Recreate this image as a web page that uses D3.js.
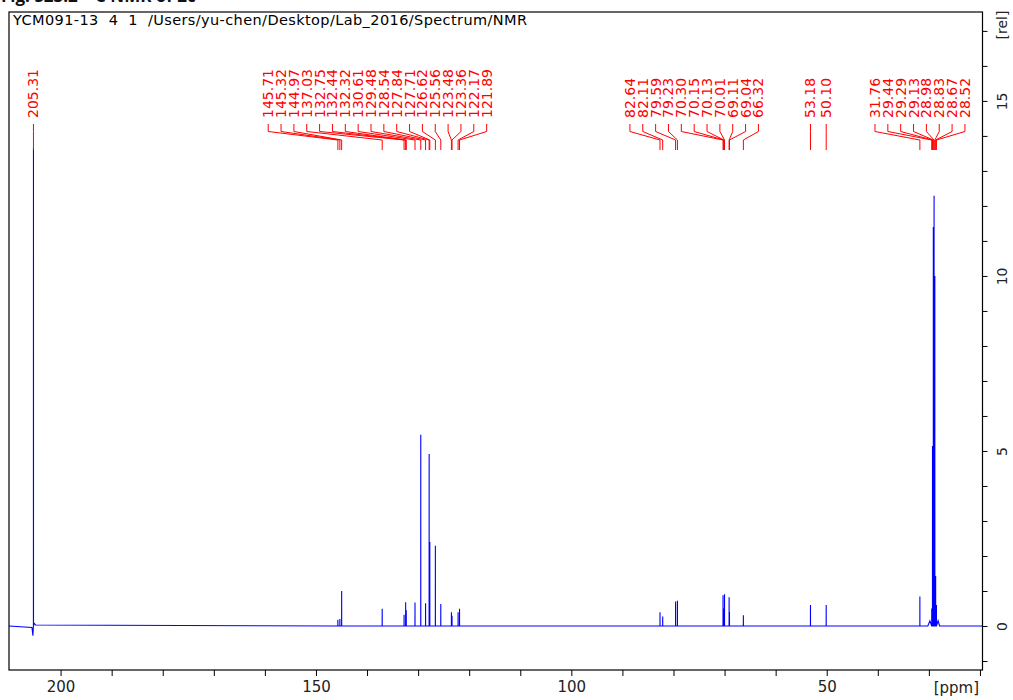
<!DOCTYPE html>
<html>
<head>
<meta charset="utf-8">
<script src="https://cdn.jsdelivr.net/npm/d3@7/dist/d3.min.js"></script>
<style>
  html, body { margin: 0; padding: 0; background: #fff; }
  svg { display: block; }
</style>
</head>
<body>
<svg id="chart" width="1013" height="700"></svg>
<script>
// 13C NMR peak list: chemical shift (ppm) and intensity (rel)
const peakPpm = [
  205.31,
  145.71, 145.32, 144.97, 137.03, 132.75, 132.44, 132.32, 130.61, 129.48,
  128.54, 127.84, 127.71, 126.62, 125.56, 123.48, 123.36, 122.17, 121.89,
  82.64, 82.11, 79.59, 79.23, 70.30, 70.15, 70.13, 70.01, 69.11, 69.04, 66.32,
  53.18, 50.10,
  31.76, 29.44, 29.29, 29.13, 28.98, 28.83, 28.67, 28.52
];
const peakHeight = [
  13.66,
  0.18, 0.20, 1.00, 0.49, 0.32, 0.68, 0.45, 0.67, 5.46,
  0.65, 4.91, 2.40, 2.29, 0.63, 0.39, 0.29, 0.39, 0.49,
  0.39, 0.27, 0.70, 0.72, 0.88, 0.40, 0.50, 0.91, 0.82, 0.40, 0.31,
  0.60, 0.60,
  0.84, 0.50, 5.14, 11.40, 12.29, 10.00, 1.43, 0.60
];
// baseline features (ppm, rel): phase dip beside the ketone line and the broad foot under the CH2 cluster
const baselinePpm = [205.60, 205.42, 205.36, 205.20, 204.90, 30.20, 29.80, 28.20, 27.90];
const baselineVal = [-0.04, -0.28, -0.10, 0.08, 0.03, 0.00, 0.15, 0.15, 0.00];

// axis ticks
const xMajorTicks = [200, 150, 100, 50];
const yMajorTicks = [0, 5, 10, 15];

const titleText = "YCM091-13  4  1  /Users/yu-chen/Desktop/Lab_2016/Spectrum/NMR";
const captionText = "Fig. S23.2  \u00B9\u00B3C NMR of 2c";

// ---- layout ----
const W = 1013, H = 700;
const plot = { left: 9, right: 982.5, top: 12, bottom: 670 };
const svg = d3.select("#chart");

const x = d3.scaleLinear().domain([210.1, 19.5]).range([plot.left, plot.right]);
const y = d3.scaleLinear().domain([-1.257, 17.54]).range([plot.bottom, plot.top]);

const FONT = "'DejaVu Sans', Verdana, sans-serif";

// caption above the frame (runs off the top edge of the page)
svg.append("text")
  .attr("x", 1).attr("y", 2)
  .attr("font-family", "'Open Sans', 'DejaVu Sans', sans-serif")
  .attr("font-weight", "bold")
  .attr("font-size", 17)
  .attr("fill", "#111")
  .text(captionText);

// spectrum trace
const pts = [];
pts.push([x.domain()[0], 0]);
baselinePpm.forEach((p, i) => pts.push([p, baselineVal[i]]));
const hw = 0.008;
peakPpm.forEach((p, i) => {
  pts.push([p + hw, 0]);
  pts.push([p, peakHeight[i]]);
  pts.push([p - hw, 0]);
});
pts.push([x.domain()[1], 0]);
pts.sort((a, b) => b[0] - a[0]);

svg.append("clipPath").attr("id", "plotclip")
  .append("rect")
  .attr("x", plot.left).attr("y", plot.top)
  .attr("width", plot.right - plot.left).attr("height", plot.bottom - plot.top);

svg.append("path")
  .datum(pts)
  .attr("clip-path", "url(#plotclip)")
  .attr("fill", "none")
  .attr("stroke", "#0000ff")
  .attr("stroke-width", 1.1)
  .attr("d", d3.line().x(d => x(d[0])).y(d => y(d[1])));

// peak labels: runs of rotated labels with leader lines
const labelStep = 12.85;
const labelRuns = [
  { from: 0, to: 0, startPpm: 205.31 },
  { from: 1, to: 18, startPpm: 159.35 },
  { from: 19, to: 29, startPpm: 88.53 },
  { from: 30, to: 30, startPpm: 53.18 },
  { from: 31, to: 31, startPpm: 50.10 },
  { from: 32, to: 39, startPpm: 40.55 }
];
const labelBottom = 118, legTop = 124, legKnee = 131.5, legJoin = 140, legEnd = 150;

const labels = [];
labelRuns.forEach(run => {
  const x0 = x(run.startPpm);
  for (let i = run.from; i <= run.to; i++) {
    labels.push({ i, lx: x0 + (i - run.from) * labelStep, px: x(peakPpm[i]) });
  }
});

const gLab = svg.append("g");
const leg = d3.line();
gLab.selectAll("path.leg")
  .data(labels)
  .join("path")
  .attr("class", "leg")
  .attr("fill", "none")
  .attr("stroke", "#ff0000")
  .attr("stroke-width", 1)
  .attr("d", d => leg([[d.lx, legTop], [d.lx, legKnee], [d.px, legJoin], [d.px, legEnd]]));

gLab.selectAll("text")
  .data(labels)
  .join("text")
  .attr("transform", d => `translate(${d.lx + 5},${labelBottom}) rotate(-90)`)
  .attr("font-family", FONT)
  .attr("font-size", 14)
  .attr("fill", "#ff0000")
  .text(d => peakPpm[d.i].toFixed(2));

// title inside frame
svg.append("text")
  .attr("x", 13).attr("y", 25)
  .attr("font-family", FONT)
  .attr("font-size", 14.5)
  .attr("fill", "#000")
  .attr("xml:space", "preserve")
  .style("white-space", "pre")
  .attr("textLength", 514)
  .attr("lengthAdjust", "spacing")
  .text(titleText);

// bottom axis (ppm)
const xAxis = d3.axisBottom(x)
  .tickValues(d3.range(20, 201, 10))
  .tickSize(6)
  .tickPadding(5)
  .tickFormat(d => xMajorTicks.includes(d) ? d : "");
const gx = svg.append("g")
  .attr("transform", `translate(0,${plot.bottom})`)
  .call(xAxis);
gx.select(".domain").remove();
gx.selectAll(".tick line").attr("stroke", "#000");
gx.selectAll(".tick text")
  .attr("font-family", FONT).attr("font-size", 15).attr("fill", "#222");

svg.append("text")
  .attr("x", 979).attr("y", 693)
  .attr("text-anchor", "end")
  .attr("font-family", FONT).attr("font-size", 15).attr("fill", "#222")
  .text("[ppm]");

// right axis (rel)
const yAxis = d3.axisRight(y)
  .tickValues(d3.range(-1, 18, 1))
  .tickSize(5)
  .tickFormat(d => yMajorTicks.includes(d) ? d : "");
const gy = svg.append("g")
  .attr("transform", `translate(${plot.right},0)`)
  .call(yAxis);
gy.select(".domain").remove();
gy.selectAll(".tick line").attr("stroke", "#000");
gy.selectAll(".tick text")
  .attr("x", null).attr("dy", null)
  .attr("transform", "translate(24,0) rotate(-90)")
  .attr("text-anchor", "middle")
  .attr("font-family", FONT).attr("font-size", 14).attr("fill", "#222");

svg.append("text")
  .attr("transform", `translate(${plot.right + 24},25) rotate(-90)`)
  .attr("text-anchor", "middle")
  .attr("font-family", FONT).attr("font-size", 14).attr("fill", "#222")
  .text("[rel]");

// frame
svg.append("rect")
  .attr("x", plot.left).attr("y", plot.top)
  .attr("width", plot.right - plot.left).attr("height", plot.bottom - plot.top)
  .attr("fill", "none")
  .attr("stroke", "#000")
  .attr("stroke-width", 1.2);
</script>
</body>
</html>
